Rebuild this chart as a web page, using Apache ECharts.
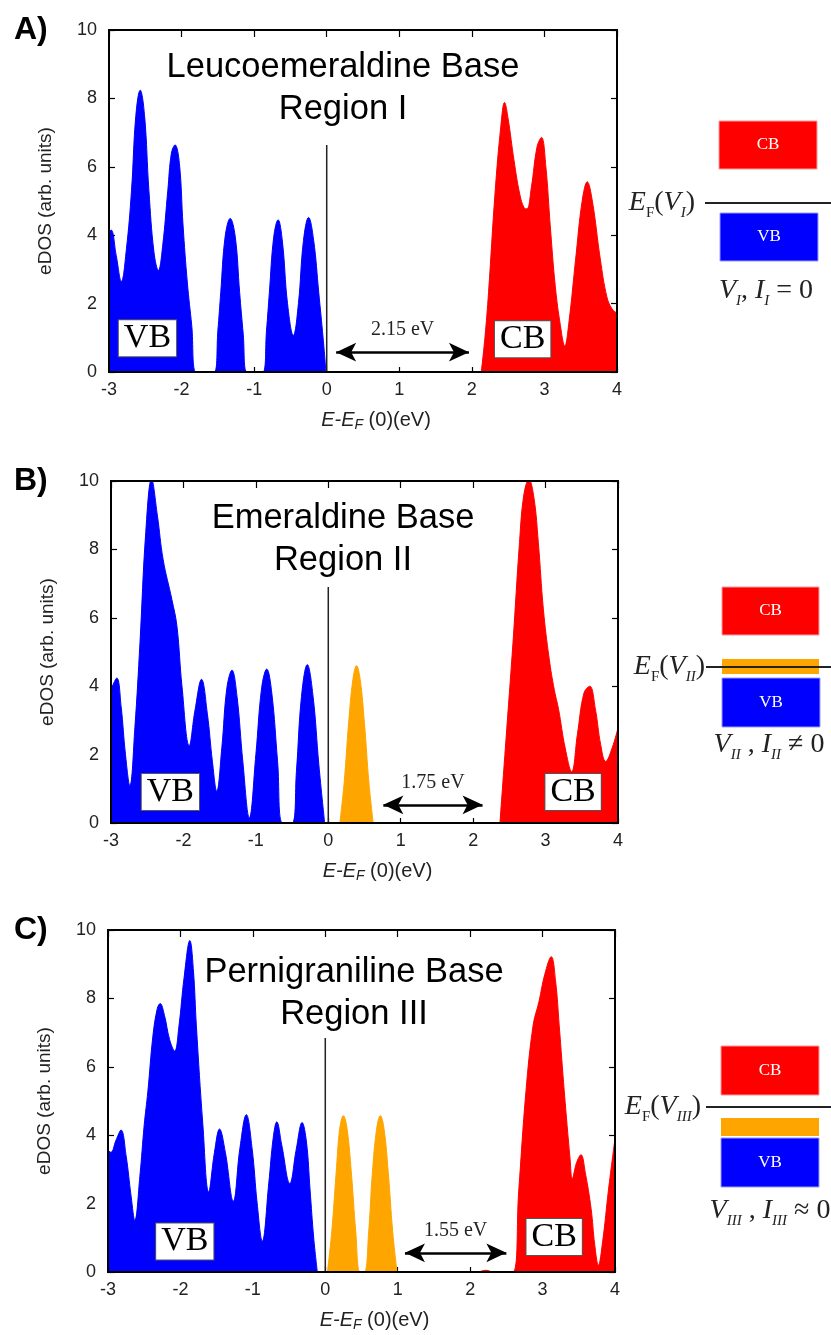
<!DOCTYPE html>
<html><head><meta charset="utf-8">
<script src="https://cdn.jsdelivr.net/npm/echarts@6/dist/echarts.min.js"></script>
<style>html,body{margin:0;padding:0;background:#fff}#c{width:831px;height:1335px}</style>
</head><body><div id="c"></div>
<script>
// ---------------- data ----------------
const panelLetters = ['A)', 'B)', 'C)'];
const panelTitles = ['Leucoemeraldine Base\nRegion I', 'Emeraldine Base\nRegion II', 'Pernigraniline Base\nRegion III'];
const gapLabels = ['2.15 eV', '1.75 eV', '1.55 eV'];
const gapArrowStart = [0.13, 0.76, 1.10];
const gapArrowEnd = [1.96, 2.13, 2.50];
const gapArrowLevel = [0.58, 0.53, 0.56];
const fermiLineTop = [6.64, 6.90, 6.84];
const vbLabelPos = [[-2.47, 0.99], [-2.18, 0.91], [-1.94, 0.89]];
const cbLabelPos = [[2.70, 0.96], [3.38, 0.91], [3.16, 1.02]];

// Panel A (Leucoemeraldine) eDOS
const vbA = [[-3.00,4.10],[-2.97,4.15],[-2.90,3.40],[-2.83,2.65],[-2.76,3.60],[-2.69,5.30],[-2.63,7.50],[-2.57,8.24],[-2.51,7.50],[-2.45,5.30],[-2.38,3.50],[-2.32,2.97],[-2.26,3.70],[-2.19,5.30],[-2.14,6.40],[-2.09,6.64],[-2.03,6.10],[-1.98,4.30],[-1.92,2.60],[-1.86,1.36],[-1.80,0],[-1.55,0],[-1.50,1.20],[-1.46,2.33],[-1.40,3.95],[-1.33,4.49],[-1.26,3.95],[-1.20,2.33],[-1.15,1.10],[-1.10,0],[-0.88,0],[-0.83,1.20],[-0.79,2.33],[-0.73,3.95],[-0.67,4.45],[-0.61,3.80],[-0.54,2.00],[-0.46,1.07],[-0.39,2.00],[-0.32,3.85],[-0.25,4.52],[-0.18,3.85],[-0.11,2.33],[-0.05,1.00],[-0.01,0]];
const cbA = [[2.13,0],[2.18,1.00],[2.23,2.33],[2.32,5.25],[2.40,7.20],[2.45,7.88],[2.50,7.40],[2.58,6.20],[2.66,5.20],[2.72,4.80],[2.76,4.77],[2.82,5.40],[2.90,6.60],[2.96,6.86],[3.02,6.00],[3.08,4.28],[3.15,2.50],[3.22,1.36],[3.28,0.76],[3.34,1.50],[3.43,3.30],[3.52,5.00],[3.59,5.56],[3.66,5.00],[3.77,3.30],[3.86,2.20],[3.93,1.85],[4.00,1.72]];

// Panel B (Emeraldine) eDOS
const vbB = [[-3.00,3.90],[-2.92,4.24],[-2.86,3.40],[-2.80,2.00],[-2.74,1.09],[-2.67,2.80],[-2.60,5.27],[-2.52,8.50],[-2.44,10.05],[-2.36,9.00],[-2.28,7.70],[-2.16,6.54],[-2.09,5.76],[-2.02,4.00],[-1.92,2.26],[-1.84,3.30],[-1.75,4.20],[-1.67,3.20],[-1.60,1.80],[-1.54,0.93],[-1.47,2.20],[-1.40,3.95],[-1.33,4.47],[-1.26,3.70],[-1.18,1.80],[-1.09,0.15],[-1.00,2.00],[-0.92,3.95],[-0.85,4.50],[-0.78,3.80],[-0.70,1.80],[-0.63,0],[-0.50,0],[-0.44,1.50],[-0.37,3.70],[-0.29,4.63],[-0.21,3.70],[-0.13,1.70],[-0.05,0]];
const midB = [[0.16,0],[0.22,1.20],[0.28,2.90],[0.34,4.20],[0.39,4.60],[0.44,4.20],[0.50,2.90],[0.56,1.20],[0.62,0]];
const cbB = [[2.37,0],[2.45,2.34],[2.55,5.27],[2.64,8.20],[2.70,9.60],[2.77,10.05],[2.84,9.50],[2.90,8.20],[2.97,6.24],[3.05,4.80],[3.12,3.90],[3.18,3.32],[3.27,2.20],[3.36,1.50],[3.44,2.60],[3.53,3.80],[3.61,4.00],[3.69,3.30],[3.76,2.30],[3.83,1.80],[3.92,2.20],[4.00,2.78]];

// Panel C (Pernigraniline) eDOS
const vbC = [[-3.00,3.56],[-2.96,3.50],[-2.89,3.85],[-2.82,4.15],[-2.75,3.40],[-2.68,2.20],[-2.63,1.51],[-2.56,2.80],[-2.50,4.30],[-2.45,5.27],[-2.38,6.90],[-2.32,7.70],[-2.28,7.85],[-2.22,7.50],[-2.15,6.80],[-2.08,6.46],[-2.02,7.20],[-1.95,8.60],[-1.87,9.69],[-1.82,8.80],[-1.78,7.20],[-1.69,4.30],[-1.61,2.34],[-1.53,3.50],[-1.46,4.18],[-1.38,3.50],[-1.27,2.07],[-1.18,3.60],[-1.09,4.60],[-1.01,3.60],[-0.94,2.00],[-0.87,0.90],[-0.78,2.60],[-0.72,3.90],[-0.67,4.39],[-0.60,3.70],[-0.49,2.59],[-0.40,3.60],[-0.32,4.37],[-0.26,3.80],[-0.21,2.40],[-0.16,1.00],[-0.11,0]];
const midC = [[0.03,0],[0.09,1.20],[0.15,2.90],[0.20,4.20],[0.25,4.57],[0.30,4.20],[0.36,2.90],[0.42,1.20],[0.48,0],[0.54,0],[0.60,1.20],[0.65,2.90],[0.71,4.20],[0.76,4.57],[0.81,4.20],[0.87,2.90],[0.93,1.20],[0.99,0]];
const cbC = [[2.12,0],[2.22,0.05],[2.32,0],[2.59,0],[2.67,2.34],[2.77,5.27],[2.87,7.22],[2.95,7.90],[3.03,8.70],[3.12,9.22],[3.18,8.50],[3.23,7.20],[3.30,5.27],[3.38,3.30],[3.41,2.73],[3.47,3.20],[3.53,3.43],[3.59,2.90],[3.67,1.85],[3.72,0.80],[3.77,0.20],[3.83,0.90],[3.91,2.40],[4.00,3.90]];

const vbData = [vbA, vbB, vbC];
const midData = [null, midB, midC];
const cbData = [cbA, cbB, cbC];

// ---------------- layout / styles ----------------
const SANS = '"Liberation Sans", Arial, sans-serif';
const SERIF = '"Liberation Serif", "Times New Roman", serif';
const grids = [
  {left: 109, top: 30, width: 508, height: 342},
  {left: 111, top: 481, width: 507, height: 342},
  {left: 108, top: 930, width: 507, height: 342}
];
const BLUE = '#0000ff', RED = '#ff0000', ORANGE = '#ffa500';

const option = {animation: false, backgroundColor: '#fff', grid: [], xAxis: [], yAxis: [], series: [], graphic: []};

grids.forEach((gr, g) => {
  option.grid.push(Object.assign({show: true, z: 10, borderColor: '#000', borderWidth: 2, backgroundColor: 'rgba(0,0,0,0)'}, gr));
  const tickStyle = {color: '#000', width: 1.2};
  option.xAxis.push({
    gridIndex: g, type: 'value', min: -3, max: 4, interval: 1, position: 'bottom',
    axisLine: {show: false, onZero: false}, axisTick: {show: true, inside: true, length: 5, lineStyle: tickStyle},
    splitLine: {show: false},
    axisLabel: {margin: 9, fontSize: 18, color: '#222', fontFamily: SANS},
    name: '{i|E-E}{s|F}{n| (0)(eV)}', nameLocation: 'middle', nameGap: 36,
    nameTextStyle: {padding: [0, 0, 0, 26], rich: {
      i: {fontFamily: SANS, fontSize: 20, fontStyle: 'italic', color: '#222', lineHeight: 24},
      s: {fontFamily: SANS, fontSize: 14, fontStyle: 'italic', color: '#222', lineHeight: 14, verticalAlign: 'bottom'},
      n: {fontFamily: SANS, fontSize: 20, color: '#222', lineHeight: 24}
    }}
  });
  option.xAxis.push({
    gridIndex: g, type: 'value', min: -3, max: 4, interval: 1, position: 'top',
    axisLine: {show: false, onZero: false}, axisTick: {show: true, inside: true, length: 7, lineStyle: tickStyle},
    splitLine: {show: false}, axisLabel: {show: false}
  });
  option.yAxis.push({
    gridIndex: g, type: 'value', min: 0, max: 10, interval: 2, position: 'left',
    axisLine: {show: false, onZero: false}, axisTick: {show: true, inside: true, length: 6, lineStyle: tickStyle},
    splitLine: {show: false},
    axisLabel: {margin: 12, fontSize: 18, color: '#222', fontFamily: SANS},
    name: 'eDOS (arb. units)', nameLocation: 'middle', nameGap: 54, nameRotate: 90,
    nameTextStyle: {fontFamily: SANS, fontSize: 19, color: '#222'}
  });
  option.yAxis.push({
    gridIndex: g, type: 'value', min: 0, max: 10, interval: 2, position: 'right',
    axisLine: {show: false, onZero: false}, axisTick: {show: true, inside: true, length: 6, lineStyle: tickStyle},
    splitLine: {show: false}, axisLabel: {show: false}
  });

  const xi = 2 * g, yi = 2 * g;
  const area = (data, color) => ({
    type: 'line', xAxisIndex: xi, yAxisIndex: yi, data: data, smooth: 0.4, symbol: 'none', clip: true,
    lineStyle: {color: color, width: 1}, areaStyle: {color: color, opacity: 1}, z: 2, silent: true
  });
  option.series.push(area(vbData[g], BLUE));
  if (midData[g]) option.series.push(area(midData[g], ORANGE));
  option.series.push(area(cbData[g], RED));

  // Fermi level marker at E = 0
  option.series.push({
    type: 'line', xAxisIndex: xi, yAxisIndex: yi, data: [[0, 0], [0, fermiLineTop[g]]],
    symbol: 'none', lineStyle: {color: '#222', width: 1.5}, z: 3, silent: true
  });

  // Band-gap double arrow
  option.series.push({
    type: 'line', xAxisIndex: xi, yAxisIndex: yi, data: [], silent: true,
    markLine: {
      silent: true, symbol: ['arrow', 'arrow'], symbolSize: [14, 20],
      lineStyle: {color: '#000', width: 2.5, type: 'solid'},
      label: {show: true, position: 'insideMiddleTop', distance: 12, formatter: gapLabels[g],
        fontFamily: SERIF, fontSize: 20, color: '#222'},
      data: [[{coord: [gapArrowStart[g], gapArrowLevel[g]]}, {coord: [gapArrowEnd[g], gapArrowLevel[g]]}]]
    }
  });

  // VB / CB boxed labels
  option.series.push({
    type: 'scatter', xAxisIndex: xi, yAxisIndex: yi, symbolSize: 0, z: 6, silent: true,
    itemStyle: {opacity: 1},
    data: [[vbLabelPos[g][0], vbLabelPos[g][1], 'VB'], [cbLabelPos[g][0], cbLabelPos[g][1], 'CB']],
    label: {show: true, position: 'inside', formatter: p => p.value[2], opacity: 1,
      fontFamily: SERIF, fontSize: 34, color: '#000', backgroundColor: '#ffffff',
      borderColor: '#555', borderWidth: 1, padding: [3, 5, 0, 5], lineHeight: 33}
  });

  // panel letter
  option.graphic.push({type: 'text', x: 14, y: gr.top, style: {text: panelLetters[g], font: 'bold 32px ' + SANS, fill: '#000', verticalAlign: 'middle'}});
});

option.graphic.push(
  {type: 'text', x: 343, y: 88, z: 20, style: {text: panelTitles[0], font: '34.5px ' + SANS, fill: '#000', align: 'center', verticalAlign: 'middle', lineHeight: 42}},
  {type: 'text', x: 343, y: 539, z: 20, style: {text: panelTitles[1], font: '34.5px ' + SANS, fill: '#000', align: 'center', verticalAlign: 'middle', lineHeight: 42}},
  {type: 'text', x: 354, y: 993, z: 20, style: {text: panelTitles[2], font: '34.5px ' + SANS, fill: '#000', align: 'center', verticalAlign: 'middle', lineHeight: 42}}
);

// ---------------- band schematics (right side) ----------------
const richEF = {
  e: {fontFamily: SERIF, fontSize: 28, fontStyle: 'italic', fill: '#222', lineHeight: 36},
  f: {fontFamily: SERIF, fontSize: 15, fill: '#222', lineHeight: 15, verticalAlign: 'bottom'},
  s: {fontFamily: SERIF, fontSize: 15, fontStyle: 'italic', fill: '#222', lineHeight: 15, verticalAlign: 'bottom'},
  n: {fontFamily: SERIF, fontSize: 28, fill: '#222', lineHeight: 36}
};
function schematic(s) {
  const out = [];
  out.push({type: 'rect', shape: {x: s.cb[0], y: s.cb[1], width: s.cb[2], height: s.cb[3]}, style: {fill: RED, stroke: '#ff9a9a', lineWidth: 1}});
  out.push({type: 'text', x: s.cb[0] + s.cb[2] / 2, y: s.cb[1] + s.cb[3] / 2, z: 2, style: {text: 'CB', font: '17px ' + SERIF, fill: '#fff', align: 'center', verticalAlign: 'middle'}});
  out.push({type: 'rect', shape: {x: s.vb[0], y: s.vb[1], width: s.vb[2], height: s.vb[3]}, style: {fill: BLUE, stroke: '#9a9aff', lineWidth: 1}});
  out.push({type: 'text', x: s.vb[0] + s.vb[2] / 2, y: s.vb[1] + s.vb[3] / 2, z: 2, style: {text: 'VB', font: '17px ' + SERIF, fill: '#fff', align: 'center', verticalAlign: 'middle'}});
  if (s.mid) out.push({type: 'rect', shape: {x: s.mid[0], y: s.mid[1], width: s.mid[2], height: s.mid[3]}, style: {fill: ORANGE}});
  out.push({type: 'line', z: 3, shape: {x1: s.line[0], y1: s.line[2], x2: s.line[1], y2: s.line[2]}, style: {stroke: '#222', lineWidth: 2}});
  out.push({type: 'text', x: s.ef[0], y: s.ef[1], style: {text: s.efText, rich: richEF, align: 'right', verticalAlign: 'middle'}});
  out.push({type: 'text', x: s.st[0], y: s.st[1], style: {text: s.stText, rich: richEF, align: 'center', verticalAlign: 'middle'}});
  return out;
}
option.graphic.push(...schematic({
  cb: [719, 121, 98, 48], vb: [720, 213, 98, 48], line: [705, 831, 203],
  ef: [695, 203], efText: '{e|E}{f|F}{n|(}{e|V}{s|I}{n|)}',
  st: [766, 291], stText: '{e|V}{s|I}{n|, }{e|I}{s|I}{n| = 0}'
}));
option.graphic.push(...schematic({
  cb: [722, 587, 97, 48], mid: [722, 659, 97, 15], vb: [722, 678, 98, 49], line: [706, 831, 667],
  ef: [705, 667], efText: '{e|E}{f|F}{n|(}{e|V}{s|II}{n|)}',
  st: [769, 745], stText: '{e|V}{s|II}{n| , }{e|I}{s|II}{n| ≠ 0}'
}));
option.graphic.push(...schematic({
  cb: [721, 1046, 98, 49], mid: [721, 1118, 98, 18], vb: [721, 1138, 98, 49], line: [706, 831, 1107],
  ef: [701, 1107], efText: '{e|E}{f|F}{n|(}{e|V}{s|III}{n|)}',
  st: [770, 1211], stText: '{e|V}{s|III}{n| , }{e|I}{s|III}{n| ≈ 0}'
}));

const chart = echarts.init(document.getElementById('c'), null, {renderer: 'canvas'});
chart.setOption(option);
</script>
</body></html>
